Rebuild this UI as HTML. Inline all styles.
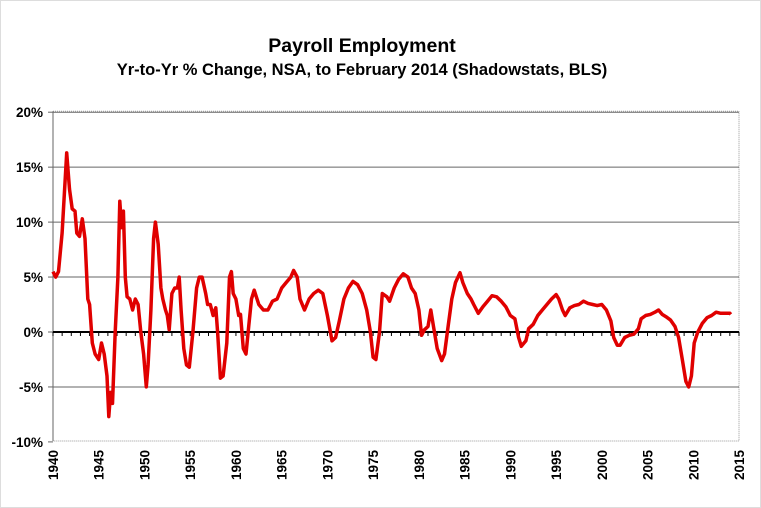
<!DOCTYPE html>
<html><head><meta charset="utf-8"><style>
body{margin:0;background:#fff}
svg{display:block;font-family:"Liberation Sans",Arial,sans-serif;font-weight:bold}
</style></head><body>
<svg id="s" width="761" height="508" viewBox="0 0 761 508">
<rect x="0.5" y="0.5" width="760" height="507" fill="#fff" stroke="#ddd"/>
<text x="362" y="52" font-size="19.5" text-anchor="middle">Payroll  Employment</text>
<text x="362" y="75" font-size="16.5" text-anchor="middle">Yr-to-Yr % Change, NSA, to February 2014 (Shadowstats, BLS)</text>
<g id="g"></g>
</svg>
<script>
var L=53,R=739,T=111.3,B=441;
function X(y){return L+(y-1940)*(R-L)/75}
function Y(v){return 332-v*(B-T)/30}
var g=document.getElementById('g'),h='';
h+='<rect x="'+L+'" y="'+T+'" width="'+(R-L)+'" height="'+(B-T)+'" fill="none" stroke="#999" stroke-dasharray="1,1"/>';
[20,15,10,5,-5].forEach(function(v){h+='<line x1="'+L+'" x2="'+R+'" y1="'+Y(v)+'" y2="'+Y(v)+'" stroke="#666" stroke-width="1"/>';});
h+='<line x1="'+L+'" x2="'+L+'" y1="'+T+'" y2="'+B+'" stroke="#666"/>';
[20,15,10,5,0,-5,-10].forEach(function(v){h+='<text x="43" y="'+(Y(v)+5)+'" font-size="13.5" text-anchor="end">'+v+'%</text>';h+='<line x1="48" x2="'+L+'" y1="'+Y(v)+'" y2="'+Y(v)+'" stroke="#666"/>';});
for(var y=1940;y<=2015;y++){h+='<line x1="'+X(y)+'" x2="'+X(y)+'" y1="332" y2="336" stroke="#000"/>';}
h+='<line x1="'+L+'" x2="'+R+'" y1="332" y2="332" stroke="#000" stroke-width="2"/>';
for(var y=1940;y<=2015;y+=5){var x=X(y)+5;h+='<text transform="translate('+x+',450) rotate(-90)" font-size="13.5" text-anchor="end">'+y+'</text>';}
var d=[1940,5.5,1940.3,5,1940.6,5.5,1941,9,1941.5,16.3,1941.8,13,1942.1,11.2,1942.4,11,1942.6,9,1942.9,8.7,1943.2,10.3,1943.5,8.5,1943.8,3,1944,2.5,1944.3,-1,1944.6,-2,1945,-2.5,1945.3,-1,1945.6,-2,1945.9,-4,1946.1,-7.7,1946.3,-5.5,1946.5,-6.5,1946.8,0,1947.1,5,1947.3,11.9,1947.5,9.5,1947.7,11,1947.9,5,1948.1,3.2,1948.4,3,1948.7,2,1949,3,1949.3,2.5,1949.6,0,1949.9,-2,1950.2,-5,1950.4,-3,1950.7,2,1951,8.5,1951.2,10,1951.5,8,1951.8,4,1952,3,1952.3,2,1952.5,1.5,1952.7,0.2,1953,3.5,1953.3,4,1953.6,4,1953.8,5,1954,2,1954.3,-1.5,1954.6,-3,1954.9,-3.2,1955.3,0,1955.7,4,1956,5,1956.3,5,1956.7,3.5,1956.9,2.5,1957.2,2.5,1957.5,1.5,1957.8,2.2,1958,0,1958.3,-4.2,1958.6,-4,1959,-1,1959.3,5,1959.5,5.5,1959.7,3.5,1960,3,1960.3,1.5,1960.5,1.6,1960.8,-1.5,1961.1,-2,1961.4,0.5,1961.7,3,1962,3.8,1962.5,2.5,1963,2,1963.5,2,1964,2.8,1964.5,3,1965,4,1965.5,4.5,1966,5,1966.3,5.6,1966.7,5,1967,3,1967.5,2,1968,3,1968.5,3.5,1969,3.8,1969.5,3.5,1970,1.5,1970.5,-0.8,1970.9,-0.5,1971.3,1,1971.8,3,1972.3,4,1972.8,4.6,1973.3,4.3,1973.8,3.5,1974.3,2,1974.7,0,1975,-2.3,1975.3,-2.5,1975.7,0,1976,3.5,1976.5,3.2,1976.8,2.8,1977.3,4,1977.8,4.8,1978.3,5.3,1978.8,5,1979.2,4,1979.6,3.5,1980,2,1980.3,-0.3,1980.6,0.2,1981,0.5,1981.3,2,1981.6,0.5,1982,-1.5,1982.5,-2.6,1982.8,-2,1983.2,0.5,1983.6,3,1984,4.5,1984.5,5.4,1984.8,4.5,1985.3,3.5,1985.7,3,1986,2.5,1986.5,1.7,1987,2.3,1987.5,2.8,1988,3.3,1988.5,3.2,1989,2.8,1989.5,2.3,1990,1.5,1990.5,1.2,1990.9,-0.5,1991.2,-1.3,1991.7,-0.8,1992,0.3,1992.5,0.7,1993,1.5,1993.5,2,1994,2.5,1994.5,3,1995,3.4,1995.3,3,1995.7,2,1996,1.5,1996.5,2.2,1997,2.4,1997.5,2.5,1998,2.8,1998.5,2.6,1999,2.5,1999.5,2.4,2000,2.5,2000.5,2,2001,1,2001.3,-0.5,2001.7,-1.2,2002,-1.2,2002.5,-0.5,2003,-0.3,2003.5,-0.2,2004,0.3,2004.3,1.2,2004.8,1.5,2005.3,1.6,2005.8,1.8,2006.2,2,2006.6,1.6,2007,1.4,2007.5,1.1,2008,0.5,2008.4,-0.5,2008.8,-2.5,2009.2,-4.5,2009.5,-5,2009.8,-4,2010.1,-1,2010.5,0,2011,0.8,2011.5,1.3,2012,1.5,2012.5,1.8,2013,1.7,2013.5,1.7,2014,1.7,2014.1,1.6];
var p=[];for(var i=0;i<d.length;i+=2)p.push(X(d[i]).toFixed(1)+','+Y(d[i+1]).toFixed(1));
h+='<polyline points="'+p.join(' ')+'" fill="none" stroke="#e00000" stroke-width="3.5" stroke-linejoin="round"/>';
g.innerHTML=h;
</script>
</body></html>
